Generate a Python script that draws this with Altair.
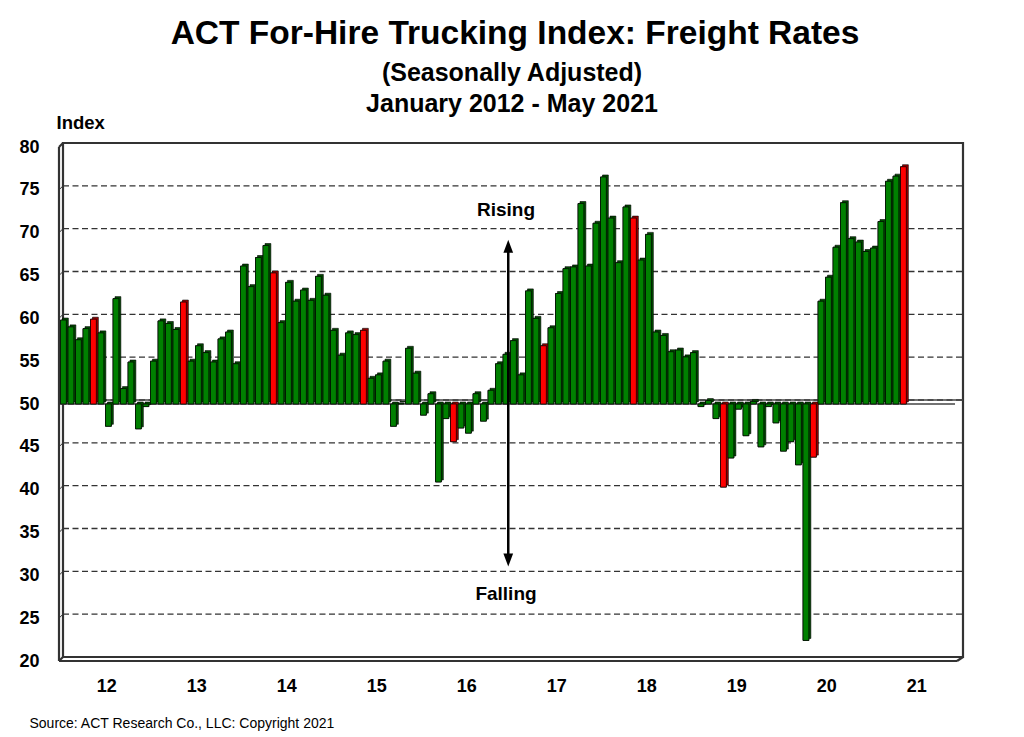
import json
import altair as alt
import pandas as pd

# ---------------- data ----------------
TITLE = "ACT For-Hire Trucking Index: Freight Rates"
SUBTITLE_1 = "(Seasonally Adjusted)"
SUBTITLE_2 = "January 2012 - May 2021"
SOURCE = "Source: ACT Research Co., LLC: Copyright 2021"
Y_TITLE = "Index"

years = [2012, 2013, 2014, 2015, 2016, 2017, 2018, 2019, 2020, 2021]
year_labels = ["12", "13", "14", "15", "16", "17", "18", "19", "20", "21"]
y_ticks = [20, 25, 30, 35, 40, 45, 50, 55, 60, 65, 70, 75, 80]
highlight_month = 5  # May bars drawn in red

rates_2012 = [59.8, 59.0, 57.5, 58.8, 59.9, 58.3, 47.4, 62.3, 51.8, 54.9, 47.1, 49.7]
rates_2013 = [55.0, 59.7, 59.4, 58.7, 61.9, 55.0, 56.8, 56.0, 54.9, 57.6, 58.4, 54.7]
rates_2014 = [66.1, 63.7, 67.1, 68.5, 65.3, 59.5, 64.2, 62.0, 63.3, 62.1, 64.9, 62.7]
rates_2015 = [58.6, 55.7, 58.3, 58.1, 58.6, 53.0, 53.4, 55.0, 47.4, 50.1, 56.5, 53.6]
rates_2016 = [48.7, 51.2, 40.9, 48.3, 45.6, 47.2, 46.6, 51.2, 48.0, 51.6, 54.7, 55.8]
rates_2017 = [57.4, 53.4, 63.2, 60.0, 56.8, 58.9, 62.9, 65.8, 66.0, 73.4, 66.1, 71.1]
rates_2018 = [76.5, 71.7, 66.5, 73.0, 71.7, 66.8, 69.8, 58.4, 58.0, 56.1, 56.3, 55.5]
rates_2019 = [56.0, 49.7, 50.4, 48.3, 40.3, 43.7, 49.4, 46.3, 50.3, 45.0, 49.7, 47.8]
rates_2020 = [44.5, 45.6, 42.9, 22.4, 43.8, 62.0, 64.8, 68.3, 73.5, 69.3, 68.9, 67.8]
rates_2021 = [68.2, 71.3, 76.0, 76.6, 77.7]

all_rates = [rates_2012, rates_2013, rates_2014, rates_2015, rates_2016,
             rates_2017, rates_2018, rates_2019, rates_2020, rates_2021]

rows = []
for yi, vals in enumerate(all_rates):
    for m, v in enumerate(vals):
        rows.append({"idx": yi * 12 + m, "value": v,
                     "may": 1 if m + 1 == highlight_month else 0})
df = pd.DataFrame(rows)

# ---------------- layout ----------------
W, H = 900, 514
D = 4  # 3-D depth in px
FONT = "Liberation Sans, Arial, sans-serif"

xs = alt.Scale(domain=[0, 120], nice=False, zero=False)
ys = alt.Scale(domain=[20, 80], nice=False, zero=False)

one = alt.Data(values=[{}])

# gridlines on back wall
grid_df = pd.DataFrame({"v": y_ticks[1:-1]})
grid = alt.Chart(grid_df).mark_rule(
    strokeDash=[6, 3.5], color="#333333", strokeWidth=1.3, yOffset=-D
).encode(x=alt.value(D), x2=alt.value(W + D), y=alt.Y("v:Q", scale=ys))
grid_side = alt.Chart(grid_df).mark_rule(
    color="#333333", strokeWidth=1.0, y2Offset=-D
).encode(x=alt.value(0), x2=alt.value(D), y=alt.Y("v:Q", scale=ys), y2="v:Q")

frame_color = "#333333"
back_wall = alt.Chart(one).mark_rect(fillOpacity=0, stroke=frame_color, strokeWidth=2.2).encode(
    x=alt.value(D), x2=alt.value(W + D), y=alt.value(-D), y2=alt.value(H - D))

def seg(x1, y1, x2, y2, w=2.2):
    return alt.Chart(one).mark_rule(color=frame_color, strokeWidth=w).encode(
        x=alt.value(x1), x2=alt.value(x2), y=alt.value(y1), y2=alt.value(y2))

front_edges = [
    seg(0, 0, 0, H),
    seg(0, H, W - 2, H),
    seg(0, 0, D, -D),
    seg(0, H, D, H - D),
    seg(W - 2, H, W + D, H - D),
]

# floor line at 50 (back and front)
base50_df = pd.DataFrame({"v": [50]})
base_back = alt.Chart(base50_df).mark_rule(color="#444444", strokeWidth=1.4, yOffset=-D).encode(
    x=alt.value(D), x2=alt.value(W + D), y=alt.Y("v:Q", scale=ys))
base_front = alt.Chart(base50_df).mark_rule(color="#444444", strokeWidth=1.4).encode(
    x=alt.value(0), x2=alt.value(W - 4), y=alt.Y("v:Q", scale=ys))

bars_base = alt.Chart(df).transform_calculate(
    x0="datum.idx + 0.2", x1="datum.idx + 0.98", b="50")

side = bars_base.mark_bar(
    xOffset=2, x2Offset=2, yOffset=-2, y2Offset=-2, stroke="black", strokeWidth=0.6
).encode(
    x=alt.X("x0:Q", scale=xs), x2="x1:Q",
    y=alt.Y("value:Q", scale=ys), y2="b:Q",
    color=alt.condition("datum.may == 1", alt.value("#990000"), alt.value("#004a00")),
)

x_label_expr = json.dumps(year_labels) + "[floor(datum.value / 12)]"

front = bars_base.mark_bar(stroke="black", strokeWidth=0.7).encode(
    x=alt.X("x0:Q", scale=xs,
            axis=alt.Axis(values=[12 * k + 6.3 for k in range(len(years))],
                          labelExpr=x_label_expr, title="")),
    x2="x1:Q",
    y=alt.Y("value:Q", scale=ys, axis=alt.Axis(values=y_ticks, title=Y_TITLE)),
    y2="b:Q",
    color=alt.condition("datum.may == 1", alt.value("#ff0000"), alt.value("#008000")),
)

# annotations
rising = alt.Chart(one).mark_text(text="Rising", font=FONT, fontSize=19, fontWeight="bold",
                                  baseline="alphabetic", align="center").encode(
    x=alt.XDatum(59.6), y=alt.YDatum(71.9))
falling = alt.Chart(one).mark_text(text="Falling", font=FONT, fontSize=19, fontWeight="bold",
                                   baseline="alphabetic", align="center").encode(
    x=alt.XDatum(59.6), y=alt.YDatum(27.1))
shaft = alt.Chart(one).mark_rule(color="black", strokeWidth=2.5).encode(
    x=alt.XDatum(59.9), y=alt.YDatum(68.5), y2=alt.Y2Datum(31.8))
head_up = alt.Chart(one).mark_point(shape="M0,-1L0.75,1L-0.75,1Z", filled=True, size=169,
                                    color="black", opacity=1).encode(
    x=alt.XDatum(59.9), y=alt.YDatum(68.4))
head_down = alt.Chart(one).mark_point(shape="M0,1L0.75,-1L-0.75,-1Z", filled=True, size=169,
                                      color="black", opacity=1).encode(
    x=alt.XDatum(59.9), y=alt.YDatum(31.8))

def txt(t, x, y, size, weight="bold", align="center"):
    return alt.Chart(one).mark_text(text=t, font=FONT, fontSize=size, fontWeight=weight,
                                    baseline="alphabetic", align=align, color="black").encode(
        x=alt.value(x), y=alt.value(y))

title = txt(TITLE, 456, -103.5, 33.5)
sub1 = txt(SUBTITLE_1, 453, -66, 25)
sub2 = txt(SUBTITLE_2, 453, -35.5, 25)
source = txt(SOURCE, -29.5, 581, 14, weight="normal", align="left")

chart = alt.layer(
    front, grid, grid_side, back_wall, base_back, base_front, side, front,
    *front_edges, shaft, head_up, head_down, rising, falling,
    title, sub1, sub2, source,
).properties(
    width=W, height=H,
    autosize=alt.AutoSizeParams(type="none"),
    padding={"left": 51, "top": 139, "right": 49, "bottom": 71},
    background="white",
).configure_view(
    stroke="transparent"
).configure_axisX(
    ticks=False, domain=False, grid=False, labelPadding=16, labelFontSize=18,
    labelFontWeight="bold", labelFont=FONT, labelColor="black", labelFlush=False,
).configure_axisY(
    ticks=False, domain=False, grid=False, labelPadding=20, labelFontSize=18,
    labelFontWeight="bold", labelFont=FONT, labelColor="black",
    titleAngle=0, titleAlign="left", titleBaseline="alphabetic", titleX=-3, titleY=-19,
    titleFontSize=18.5, titleFontWeight="bold", titleFont=FONT, titleColor="black",
)

chart.save("out.html", embed_options={"renderer": "svg", "actions": False})
